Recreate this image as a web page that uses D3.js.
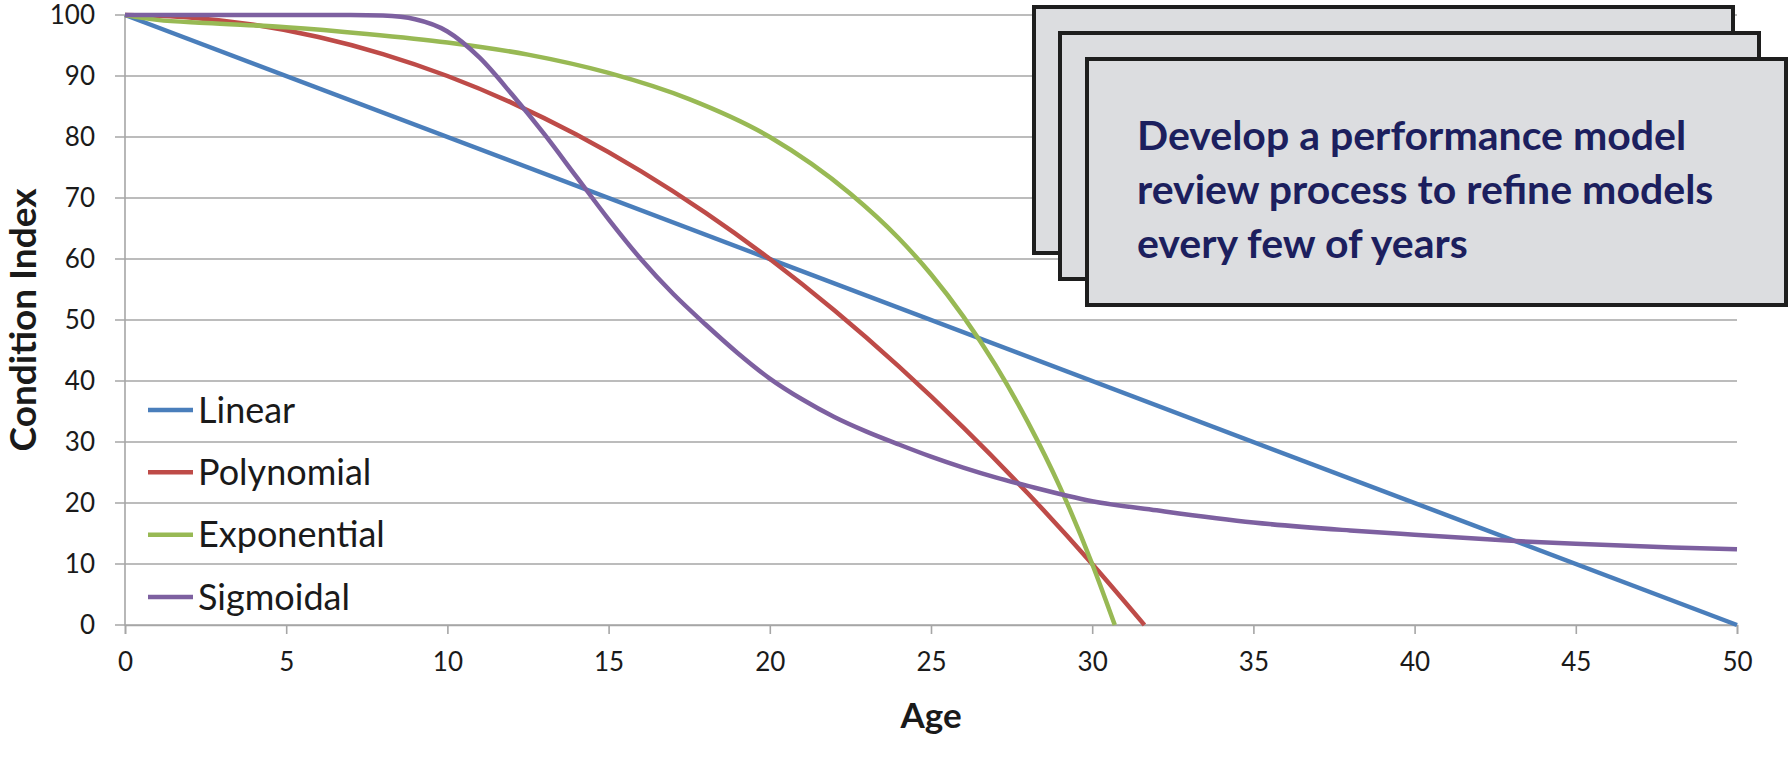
<!DOCTYPE html>
<html>
<head>
<meta charset="utf-8">
<script src="https://cdn.jsdelivr.net/npm/d3@7"></script>
<style>
  html, body { margin: 0; padding: 0; background: #ffffff; }
  svg { display: block; }
</style>
</head>
<body>
<svg id="chart" width="1788" height="768"></svg>
<script>
// ---- data ----
const seriesNames = ["Linear", "Polynomial", "Exponential", "Sigmoidal"];
const seriesColors = ["#4A7EBB", "#BE4B48", "#98B954", "#7D60A0"];

const linearAges = [0, 50];
const linearValues = [100, 0];

const polyAges = [0, 2, 4, 6, 8, 10, 12, 14, 16, 18, 20, 22, 24, 26, 28, 30, 31.62];
const polyValues = [100, 99.6, 98.4, 96.4, 93.6, 90, 85.6, 80.4, 74.4, 67.6, 60, 51.6, 42.4, 32.4, 21.6, 10, 0];

const expAges = [0, 1, 2.5, 5, 7.5, 10, 12.5, 15, 17.5, 20, 22.5, 24, 25, 26, 27, 28, 29, 30, 30.7];
const expValues = [100, 99.2, 98.7, 98.0, 96.9, 95.5, 93.5, 90.5, 86.2, 80, 70.7, 63.4, 57.5, 50.6, 42.6, 33.3, 22.6, 10, 0];

const sigAges = [0, 7, 8, 9, 10, 11, 12, 13, 14, 15, 16, 17, 18, 19, 20, 21, 22, 23, 24, 25, 26, 27, 28, 30, 32, 35, 38, 40, 43, 45, 48, 50];
const sigValues = [100, 100, 99.9, 99.3, 97.3, 93, 87, 80.5, 73.5, 66.5, 60, 54.3, 49.3, 44.6, 40.4, 37.0, 34.1, 31.7, 29.6, 27.6, 25.8, 24.2, 22.8, 20.3, 18.8, 16.8, 15.5, 14.8, 13.8, 13.3, 12.7, 12.4];

const xTicks = [0, 5, 10, 15, 20, 25, 30, 35, 40, 45, 50];
const yTicks = [0, 10, 20, 30, 40, 50, 60, 70, 80, 90, 100];

const xTitle = "Age";
const yTitle = "Condition Index";
const noteLines = ["Develop a performance model", "review process to refine models", "every few of years"];

// ---- layout ----
const svg = d3.select("#chart");
const pL = 125, pR = 1737, pT = 15, pB = 625;
const x = d3.scaleLinear().domain([0, 50]).range([pL, pR]);
const y = d3.scaleLinear().domain([0, 100]).range([pB, pT]);
const gridColor = "#A6A6A6";
const font = "Lato, 'Open Sans', sans-serif";

// gridlines
svg.append("g").selectAll("line").data(yTicks).join("line")
  .attr("x1", pL - 10).attr("x2", pR)
  .attr("y1", d => y(d)).attr("y2", d => y(d))
  .attr("stroke", gridColor).attr("stroke-width", 1.6);

// y axis line
svg.append("line").attr("x1", pL).attr("x2", pL)
  .attr("y1", pT).attr("y2", pB + 0.5)
  .attr("stroke", gridColor).attr("stroke-width", 1.6);

// x axis
const xAxis = d3.axisBottom(x).tickValues(xTicks).tickSize(9).tickPadding(19).tickFormat(d3.format("d"));
const gx = svg.append("g").attr("transform", `translate(0,${pB})`).call(xAxis);
gx.select(".domain").attr("stroke", gridColor).attr("stroke-width", 1.6);
gx.selectAll(".tick line").attr("stroke", gridColor).attr("stroke-width", 1.6);
gx.selectAll(".tick text").attr("font-family", font).attr("font-size", 26).attr("fill", "#1a1a1a");

// y axis labels
const yAxis = d3.axisLeft(y).tickValues(yTicks).tickSize(0).tickPadding(30).tickFormat(d3.format("d"));
const gy = svg.append("g").attr("transform", `translate(${pL},0)`).call(yAxis);
gy.select(".domain").remove();
gy.selectAll(".tick text").attr("font-family", font).attr("font-size", 26).attr("fill", "#1a1a1a");

// axis titles
svg.append("text").attr("x", (pL + pR) / 2).attr("y", 728)
  .attr("text-anchor", "middle").attr("font-family", font).attr("font-weight", "bold")
  .attr("font-size", 35).attr("fill", "#1a1a1a").text(xTitle);
svg.append("text").attr("transform", `translate(36,320) rotate(-90)`)
  .attr("text-anchor", "middle").attr("font-family", font).attr("font-weight", "bold")
  .attr("font-size", 37).attr("fill", "#1a1a1a").text(yTitle);

// lines
const series = [
  { ages: linearAges, values: linearValues },
  { ages: polyAges, values: polyValues },
  { ages: expAges, values: expValues },
  { ages: sigAges, values: sigValues }
];
const line = d3.line().x(d => x(d[0])).y(d => y(d[1])).curve(d3.curveMonotoneX);
series.forEach((s, i) => {
  const pts = s.ages.map((a, j) => [a, s.values[j]]);
  svg.append("path").datum(pts).attr("d", line)
    .attr("fill", "none").attr("stroke", seriesColors[i])
    .attr("stroke-width", 4.5).attr("stroke-linejoin", "round");
});

// legend
const legendY = d3.scaleLinear().domain([0, 3]).range([410, 597]);
const lg = svg.append("g");
seriesNames.forEach((name, i) => {
  const yy = legendY(i);
  lg.append("line").attr("x1", 148).attr("x2", 193).attr("y1", yy).attr("y2", yy)
    .attr("stroke", seriesColors[i]).attr("stroke-width", 4.5);
  lg.append("text").attr("x", 198).attr("y", yy + 12.5)
    .attr("font-family", font).attr("font-size", 36).attr("fill", "#1a1a1a").text(name);
});

// note boxes
const boxW = 699, boxH = 246;
const boxes = [[1034, 7], [1060, 33], [1087, 59]];
boxes.forEach(b => {
  svg.append("rect").attr("x", b[0]).attr("y", b[1]).attr("width", boxW).attr("height", boxH)
    .attr("fill", "#DCDDE0").attr("stroke", "#1E1E1E").attr("stroke-width", 4);
});
const nt = svg.append("text").attr("font-family", font).attr("font-weight", "bold")
  .attr("font-size", 41).attr("fill", "#1C1F5E");
noteLines.forEach((t, i) => {
  nt.append("tspan").attr("x", 1137).attr("y", 150 + i * 54).text(t);
});
</script>
</body>
</html>
